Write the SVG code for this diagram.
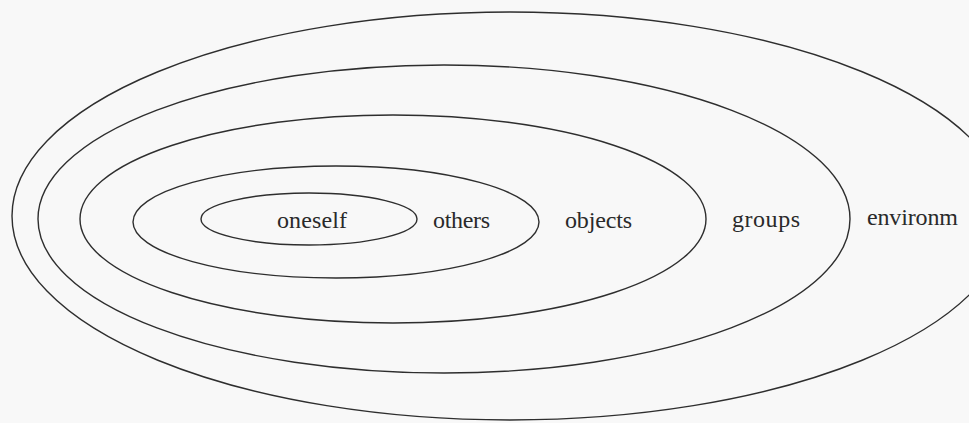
<svg xmlns="http://www.w3.org/2000/svg" width="969" height="423" viewBox="0 0 969 423">
<style>
.ring{fill:none;stroke:#2e2e2e;stroke-width:1.4}
.lbl{font-family:"Liberation Serif","Times New Roman",serif;font-size:24px;fill:#2a2a2a}
</style>
<rect width="969" height="423" fill="#f8f8f8"/>
<g id="environment">
<ellipse class="ring" cx="510" cy="216" rx="498" ry="204"/>
<text class="lbl" x="867" y="225" textLength="91">environm</text>
</g>
<g id="groups">
<ellipse class="ring" cx="444" cy="219" rx="406" ry="154"/>
<text class="lbl" x="732" y="227" textLength="68">groups</text>
</g>
<g id="objects">
<ellipse class="ring" cx="393" cy="219" rx="313" ry="104"/>
<text class="lbl" x="565" y="228" textLength="67">objects</text>
</g>
<g id="others">
<ellipse class="ring" cx="336" cy="222" rx="203" ry="56"/>
<text class="lbl" x="433" y="228" textLength="57">others</text>
</g>
<g id="oneself">
<ellipse class="ring" cx="309" cy="219" rx="108" ry="26"/>
<text class="lbl" x="277" y="228" textLength="70">oneself</text>
</g>
<g id="connectors"/>
</svg>
